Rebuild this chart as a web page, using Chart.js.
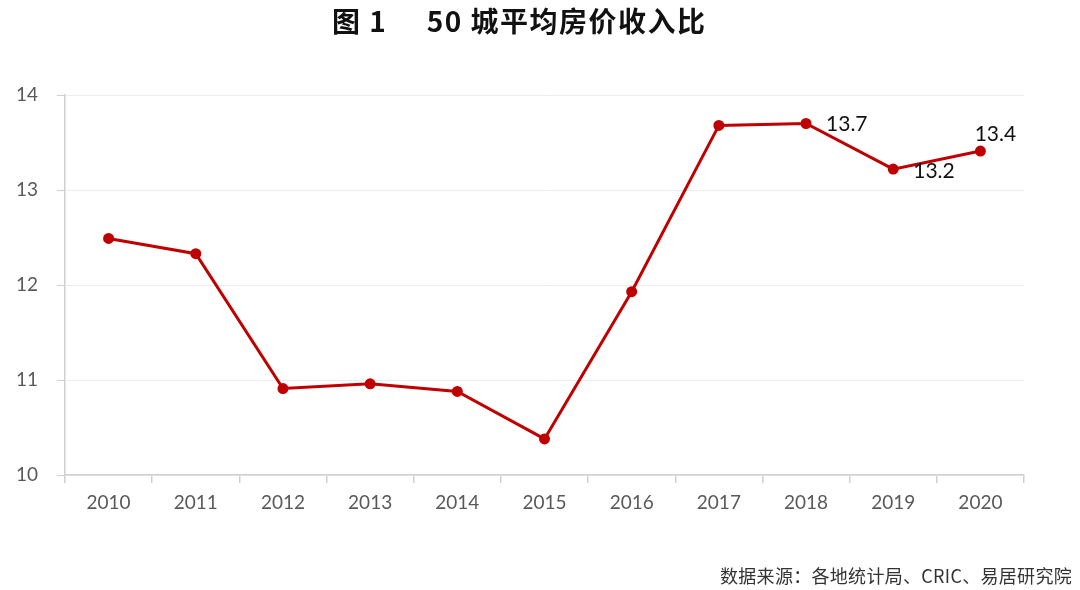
<!DOCTYPE html>
<html><head><meta charset="utf-8">
<script src="https://cdn.jsdelivr.net/npm/chart.js@4"></script>
<style>
html,body{margin:0;padding:0;background:#fff;}
#wrap{position:relative;width:1080px;height:590px;overflow:hidden;}
#title{position:absolute;left:332px;top:1px;font-family:"Noto Sans CJK SC";font-weight:700;font-size:28px;letter-spacing:1.5px;line-height:38px;color:#111;white-space:pre;}
#src{position:absolute;right:8px;top:562px;font-family:"Noto Sans CJK SC";font-size:18px;letter-spacing:0.3px;line-height:26px;color:#333;white-space:pre;}
canvas{position:absolute;left:0;top:0;}
</style></head>
<body><div id="wrap">
<canvas id="c" width="1080" height="590"></canvas>
<div id="title">图 1     50 城平均房价收入比</div>
<div id="src">数据来源：各地统计局、CRIC、易居研究院</div>
</div>
<script>
const categories = ["2010","2011","2012","2013","2014","2015","2016","2017","2018","2019","2020"];
const ratioValues = [12.49, 12.33, 10.91, 10.96, 10.88, 10.38, 11.93, 13.68, 13.70, 13.22, 13.41];
const labelTexts = [null,null,null,null,null,null,null,null,"13.7","13.2","13.4"];
const yTicks = [10, 11, 12, 13, 14];

const labelOffsets = {8:{dx:20,dy:1,align:'left'},9:{dx:20,dy:2,align:'left'},10:{dx:15,dy:-17,align:'center'}};

const labelPlugin = {
  id:'valLabels',
  afterDatasetsDraw(chart){
    const ctx = chart.ctx;
    const meta = chart.getDatasetMeta(0);
    ctx.save();
    ctx.font = '21px Lato';
    ctx.fillStyle = '#111';
    ctx.textBaseline = 'middle';
    labelTexts.forEach((t,i)=>{
      if(!t) return;
      const p = meta.data[i];
      const o = labelOffsets[i];
      ctx.textAlign = o.align;
      ctx.fillText(t, p.x + o.dx, p.y + o.dy);
    });
    ctx.restore();
  }
};

new Chart(document.getElementById('c'), {
  type:'line',
  data:{labels:categories, datasets:[{
    data:ratioValues, borderColor:'#c00000', backgroundColor:'#c00000',
    borderWidth:3, pointRadius:4, pointHoverRadius:4, tension:0, fill:false
  }]},
  options:{
    responsive:false, animation:false, devicePixelRatio:1,
    layout:{padding:{top:95,right:56,bottom:55,left:0}},
    plugins:{legend:{display:false}, tooltip:{enabled:false}},
    scales:{
      x:{
        offset:true,
        grid:{offset:true, drawOnChartArea:false, drawTicks:true, tickLength:8, color:'#d0d0d0', tickColor:'#d0d0d0', lineWidth:1.5},
        border:{color:'#d0d0d0', width:1.5},
        ticks:{color:'#595959', font:{family:'Lato', size:19}, padding:8, maxRotation:0, autoSkip:false},
        afterFit(s){ s.height = 60; }
      },
      y:{
        min:10, max:14,
        afterBuildTicks(s){ s.ticks = yTicks.map(v=>({value:v})); },
        grid:{color:'#ececec', borderDash:[2,2], tickBorderDash:[], tickColor:'#d0d0d0', tickLength:8, lineWidth:1},
        border:{color:'#d0d0d0', width:1.5},
        ticks:{color:'#595959', font:{family:'Lato', size:19}, padding:19},
        afterFit(s){ s.width = 65; }
      }
    }
  },
  plugins:[labelPlugin]
});
</script>
</body></html>
